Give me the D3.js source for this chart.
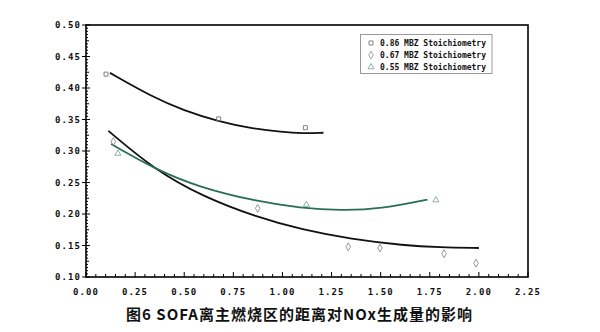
<!DOCTYPE html>
<html><head><meta charset="utf-8">
<script src="https://cdn.jsdelivr.net/npm/d3@7"></script>
<style>
html,body{margin:0;padding:0;background:#fff;}
svg{display:block;}
</style></head>
<body><svg id="c" width="600" height="332"></svg>
<script>
// ---- data ----
const seriesNames = ["0.86 MBZ Stoichiometry", "0.67 MBZ Stoichiometry", "0.55 MBZ Stoichiometry"];
const pts086 = [[0.102,0.422],[0.675,0.351],[1.117,0.337]];
const pts067 = [[0.139,0.315],[0.874,0.209],[1.335,0.148],[1.496,0.146],[1.823,0.137],[1.985,0.122]];
const pts055 = [[0.162,0.296],[1.122,0.215],[1.781,0.222]];
const fit086 = [[0.122,0.424],[0.33,0.387],[0.5,0.364],[0.675,0.347],[0.84,0.336],[1.0,0.330],[1.1,0.328],[1.209,0.329]];
const fit067 = [[0.114,0.332],[0.35,0.270],[0.6,0.227],[0.87,0.195],[1.1,0.175],[1.35,0.160],[1.62,0.150],[1.8,0.147],[2.0,0.146]];
const fit055 = [[0.128,0.311],[0.352,0.271],[0.58,0.242],[0.87,0.220],[1.09,0.2095],[1.3,0.2055],[1.5,0.208],[1.738,0.223]];
const xTicks = [0, 0.25, 0.5, 0.75, 1.0, 1.25, 1.5, 1.75, 2.0, 2.25];
const yTicks = [0.10, 0.15, 0.20, 0.25, 0.30, 0.35, 0.40, 0.45, 0.50];
const title = "图6 SOFA离主燃烧区的距离对NOx生成量的影响";

const svg = d3.select("#c");
const L = 86, R = 528, T = 25, B = 277;
const x = d3.scaleLinear().domain([0, 2.25]).range([L, R]);
const y = d3.scaleLinear().domain([0.10, 0.50]).range([B, T]);

// minor ticks
const gx = svg.append("g").attr("stroke", "#000").attr("stroke-width", 1);
d3.range(0, 2.2501, 0.05).forEach(v => {
  const isMajor = Math.abs(v / 0.25 - Math.round(v / 0.25)) < 1e-6;
  gx.append("line").attr("x1", x(v)).attr("x2", x(v)).attr("y1", B).attr("y2", B - (isMajor ? 5 : 3));
});
d3.range(0.10, 0.5001, 0.005).forEach(v => {
  const isMajor = Math.abs(v / 0.05 - Math.round(v / 0.05)) < 1e-6;
  const mid = Math.abs(v / 0.025 - Math.round(v / 0.025)) < 1e-6;
  gx.append("line").attr("x1", L).attr("x2", L + (isMajor ? 4 : (mid ? 3 : 2))).attr("y1", y(v)).attr("y2", y(v));
  if (isMajor) gx.append("line").attr("x1", L - 4).attr("x2", L).attr("y1", y(v)).attr("y2", y(v));
});

// frame
svg.append("rect").attr("x", L).attr("y", T).attr("width", R - L).attr("height", B - T)
  .attr("fill", "none").attr("stroke", "#000").attr("stroke-width", 1.6);

// axes labels
const tickFont = "'DejaVu Sans Mono', monospace";
svg.append("g").selectAll("text").data(xTicks).join("text")
  .attr("x", d => x(d)).attr("y", 294.5).attr("text-anchor", "middle")
  .attr("font-family", tickFont).attr("font-weight", "bold").attr("font-size", 9)
  .attr("letter-spacing", 1.1).attr("fill", "#111")
  .text(d => d3.format(".2f")(d));
svg.append("g").selectAll("text").data(yTicks).join("text")
  .attr("x", 81).attr("y", d => y(d) + 3.3).attr("text-anchor", "end")
  .attr("font-family", tickFont).attr("font-weight", "bold").attr("font-size", 9)
  .attr("letter-spacing", 1.1).attr("fill", "#111")
  .text(d => d3.format(".2f")(d));

// fit curves
const line = d3.line().x(d => x(d[0])).y(d => y(d[1])).curve(d3.curveBasis);
svg.append("path").attr("d", line(fit086)).attr("fill", "none").attr("stroke", "#111").attr("stroke-width", 1.8);
svg.append("path").attr("d", line(fit067)).attr("fill", "none").attr("stroke", "#111").attr("stroke-width", 1.8);
svg.append("path").attr("d", line(fit055)).attr("fill", "none").attr("stroke", "#2a6e5a").attr("stroke-width", 1.8);

// markers
const sq = d3.symbol().type(d3.symbolSquare).size(16);
const dia = d3.symbol().type(d3.symbolDiamond).size(18);
const tri = d3.symbol().type(d3.symbolTriangle).size(16);
function markers(data, gen, color) {
  svg.append("g").selectAll("path").data(data).join("path")
    .attr("transform", d => `translate(${x(d[0])},${y(d[1])})`)
    .attr("d", gen).attr("fill", "none").attr("stroke", color).attr("stroke-width", 0.9);
}
markers(pts086, sq, "#777");
markers(pts067, dia, "#8a8a8a");
markers(pts055, tri, "#7fa897");

// legend
const lg = svg.append("g");
lg.append("rect").attr("x", 360.5).attr("y", 34.5).attr("width", 131.5).attr("height", 39)
  .attr("fill", "#fff").attr("stroke", "#9a9a9a").attr("stroke-width", 1);
const rowsY = [43, 55, 67];
const gens = [sq, dia, tri];
const cols = ["#777", "#999", "#7fa897"];
seriesNames.forEach((n, i) => {
  lg.append("path").attr("transform", `translate(371,${rowsY[i]})`).attr("d", gens[i])
    .attr("fill", "none").attr("stroke", cols[i]).attr("stroke-width", 0.9);
  lg.append("text").attr("x", 380).attr("y", rowsY[i] + 3).attr("font-family", tickFont)
    .attr("font-weight", "bold").attr("font-size", 8).attr("fill", "#111").text(n);
});

// title
svg.append("text").attr("x", 126).attr("y", 320).attr("textLength", 346).attr("lengthAdjust", "spacing")
  .attr("font-family", "'Noto Sans CJK SC', sans-serif").attr("font-weight", "bold").attr("font-size", 15)
  .attr("fill", "#111").text(title);
</script></body></html>
